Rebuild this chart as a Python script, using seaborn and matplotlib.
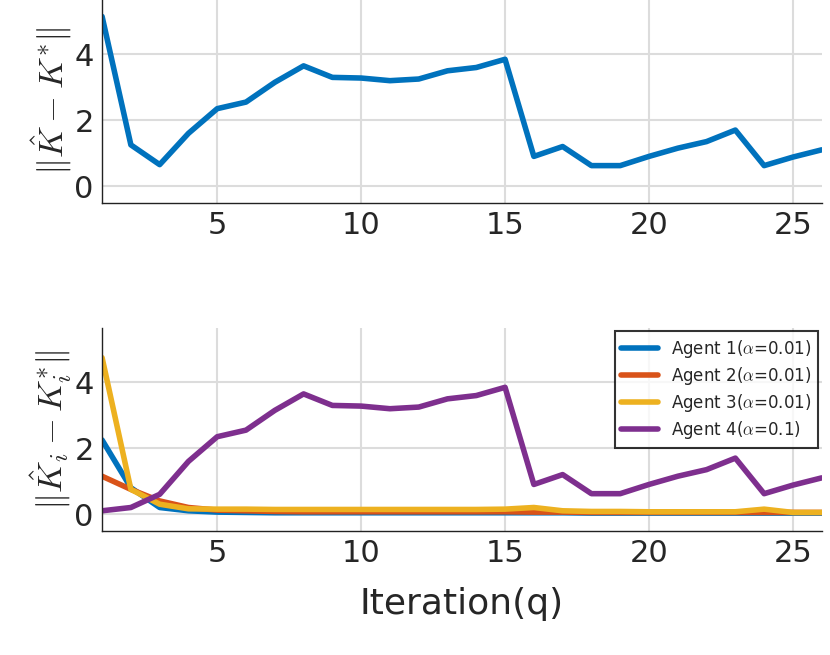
import numpy as np
import matplotlib
matplotlib.use("Agg")
import matplotlib.pyplot as plt
import seaborn as sns

iters = np.arange(1, 27)
k_err = [5.15, 1.25, 0.65, 1.6, 2.35, 2.55, 3.15, 3.65, 3.3, 3.28, 3.2, 3.25, 3.5,
         3.6, 3.85, 0.9, 1.2, 0.62, 0.62, 0.9, 1.15, 1.35, 1.7, 0.62, 0.88, 1.1]
agent1 = [2.25, 0.8, 0.2, 0.1, 0.06, 0.05, 0.04, 0.04, 0.04, 0.04, 0.04, 0.04, 0.04,
          0.04, 0.04, 0.04, 0.04, 0.03, 0.03, 0.03, 0.03, 0.03, 0.03, 0.03, 0.03, 0.03]
agent2 = [1.15, 0.75, 0.4, 0.2, 0.12, 0.1, 0.08, 0.07, 0.07, 0.07, 0.07, 0.07, 0.07,
          0.07, 0.07, 0.06, 0.06, 0.05, 0.05, 0.05, 0.05, 0.05, 0.05, 0.05, 0.05, 0.05]
agent3 = [4.75, 0.75, 0.3, 0.16, 0.15, 0.15, 0.14, 0.14, 0.14, 0.14, 0.14, 0.14, 0.14,
          0.14, 0.15, 0.2, 0.1, 0.08, 0.08, 0.07, 0.07, 0.07, 0.07, 0.15, 0.05, 0.05]
agent4 = [0.1, 0.2, 0.6, 1.6, 2.35, 2.55, 3.15, 3.65, 3.3, 3.28, 3.2, 3.25, 3.5,
          3.6, 3.85, 0.9, 1.2, 0.62, 0.62, 0.9, 1.15, 1.35, 1.7, 0.62, 0.88, 1.1]

labels = [r"Agent 1($\alpha$=0.01)", r"Agent 2($\alpha$=0.01)",
          r"Agent 3($\alpha$=0.01)", r"Agent 4($\alpha$=0.1)"]
colors = ["#0072BD", "#D95319", "#EDB120", "#7E2F8E"]

sns.set_theme(style="whitegrid")
plt.rcParams["font.family"] = ["DejaVu Sans"]
plt.rcParams["mathtext.fontset"] = "cm"

fig, (ax1, ax2) = plt.subplots(2, 1, figsize=(8.3, 6.55), dpi=100)
fig.subplots_adjust(left=0.123, right=0.99, top=1.0, bottom=0.19, hspace=0.62)

sns.lineplot(x=iters, y=k_err, ax=ax1, color=colors[0], lw=4)
for ys, lab, c in zip([agent1, agent2, agent3, agent4], labels, colors):
    sns.lineplot(x=iters, y=ys, ax=ax2, color=c, lw=4, label=lab)

for ax in (ax1, ax2):
    ax.set_xlim(1, 26)
    ax.set_ylim(-0.5, 5.65)
    ax.set_xticks([5, 10, 15, 20, 25])
    ax.set_yticks([0, 2, 4])
    ax.tick_params(labelsize=22, length=0, pad=6)
    ax.grid(True, color="#dcdcdc", lw=1.5)
    ax.set_facecolor("white")
    for s in ["top", "right"]:
        ax.spines[s].set_visible(False)
    for s in ["left", "bottom"]:
        ax.spines[s].set_color("#222222")
        ax.spines[s].set_linewidth(1)

ax1.set_ylabel(r"$\|\hat{K}-K^{*}\|$", fontsize=25, labelpad=0)
ax2.set_ylabel(r"$\|\hat{K}_i-K_i^{*}\|$", fontsize=25, labelpad=0)
ax2.set_xlabel("Iteration(q)", fontsize=26, labelpad=14)

leg = ax2.legend(loc="upper right", fontsize=12, frameon=True, fancybox=False,
                 borderaxespad=0.2, handlelength=2.2, labelspacing=0.3)
leg.get_frame().set_edgecolor("black")
leg.get_frame().set_linewidth(1.5)

fig.savefig("out.png", dpi=100)
